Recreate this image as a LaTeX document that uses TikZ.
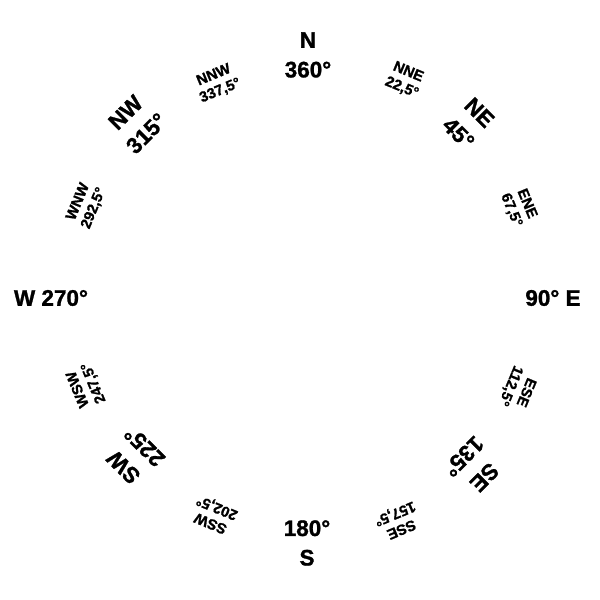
\documentclass[tikz,border=0pt]{standalone}
\usepackage{fontspec}
\setmainfont{Liberation Sans}[BoldFeatures={FakeBold=1.2}]

\begin{document}
\begin{tikzpicture}[
      x=0.025cm, y=-0.025cm,
      major/.style={font=\bfseries\fontsize{16}{21}\selectfont, align=center, inner sep=0pt},
      minor/.style={font=\bfseries\fontsize{10.5}{12}\selectfont, align=center, inner sep=0pt}]
    \useasboundingbox (0,0) rectangle (600,600);
    \node[major] (n) at (308,55) {N\\360°};
    \node[minor, rotate=-22.5] (nne) at (405,80) {NNE\\22,5°};
    \node[major, rotate=-45] (ne) at (469,123) {NE\\45°};
    \node[minor, rotate=-67.5] (ene) at (519,207) {ENE\\67,5°};
    \node[major] (e) at (553,298) {90° E};
    \node[minor, rotate=-112.5] (ese) at (518,389) {ESE\\112,5°};
    \node[major, rotate=-135] (se) at (474,467) {SE\\135°};
    \node[minor, rotate=-157.5] (sse) at (398,521) {SSE\\157,5°};
    \node[major] (s) at (307,543) {180°\\S};
    \node[minor, rotate=-202.5] (ssw) at (214,515) {SSW\\202,5°};
    \node[major, rotate=-225] (sw) at (134,457) {SW\\225°};
    \node[minor, rotate=-247.5] (wsw) at (86,386) {WSW\\247,5°};
    \node[major] (w) at (51,298) {W 270°};
    \node[minor, rotate=-292.5] (wnw) at (86,205) {WNW\\292,5°};
    \node[major, rotate=-315] (nw) at (136,123) {NW\\315°};
    \node[minor, rotate=-337.5] (nnw) at (217,83) {NNW\\337,5°};
  \end{tikzpicture}
\end{document}
